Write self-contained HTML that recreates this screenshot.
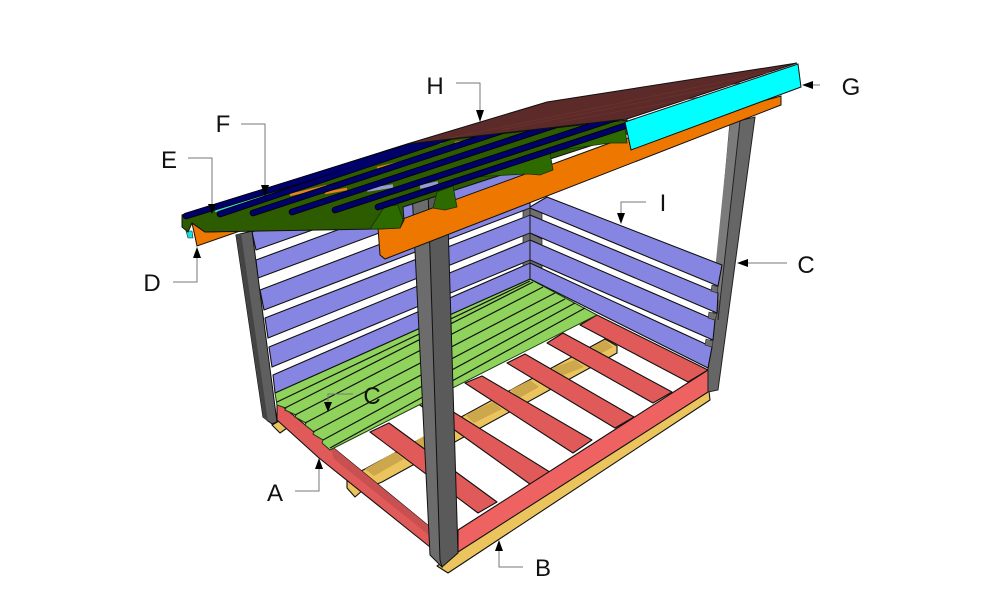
<!DOCTYPE html>
<html><head><meta charset="utf-8"><style>
html,body{margin:0;padding:0;background:#fff}
svg{display:block}
text{font-family:"Liberation Sans",sans-serif;font-size:24px;fill:#111;text-anchor:middle}
.k{stroke:#111;stroke-width:1.1;stroke-linejoin:round}
.l{fill:none;stroke:#777;stroke-width:1}
.p{fill:#8686e2}
.r{fill:#e05a5a}
.y{fill:#ecc45e}
.ys{fill:#cca74c}
</style></head><body>
<svg width="1005" height="604" viewBox="0 0 1005 604" xmlns="http://www.w3.org/2000/svg">
<defs><clipPath id="rc"><polygon points="170,235 181,213 407,144 627,119 645,133 385,215 370,235"/></clipPath></defs>
<rect width="1005" height="604" fill="#fff"/>

<!-- skids -->
<polygon class="y k" points="272,425 280,433 287,428 279,421"/>
<polygon class="y k" points="437,566 448,573 710,400 709,391 690,395"/>
<polygon class="y k" points="347,478 347,488 355,497 363,490 382,482 617,353 617,346 605,339 365,469"/>
<g class="ys">
<polygon points="365,469 395,452 404,459 374,476"/>
<polygon points="415,441 430,433 439,440 424,448"/>
<polygon points="465,415 493,402 502,409 474,423"/>
<polygon points="510,390 530,380 539,387 519,398"/>
<polygon points="552,368 575,360 584,367 561,376"/>
<polygon points="592,347 605,340 613,347 600,354"/>
</g>

<!-- joists -->
<polygon class="r k" points="597,315 708,370 688,382 580,325"/>
<polygon class="r k" points="547,343 563,333 672,392 653,403"/>
<polygon class="r k" points="507,363 525,354 634,417 615,428"/>
<polygon class="r k" points="465,383 482,376 592,440 573,453"/>
<polygon class="r k" points="410,385 553,474 534,487 410,398"/>
<polygon class="r k" points="370,432 389,423 497,502 478,513"/>
<polygon class="r k" points="277,402 330,445 430,527 430,547 319,458 277,420"/>
<polygon fill="#c95050" points="330,445 430,527 430,536 334,459"/>
<polygon fill="#ee6262" class="k" points="458,530 708,370 708,392 458,552"/>

<!-- floor -->
<polygon fill="#8fd35c" stroke="#1d3a10" stroke-width="1" points="275,393 530,279 597,315 330,450 322,443 323,440 313,434 314,432 305,425 306,423 295,417 296,415 285,410 286,408 277,405"/>
<g stroke="#111" stroke-width="1.2" fill="none">
<line x1="277" y1="402" x2="530" y2="281"/>
<line x1="285" y1="408" x2="533" y2="282"/>
<line x1="295" y1="415" x2="543" y2="287"/>
<line x1="305" y1="423" x2="555" y2="293"/>
<line x1="313" y1="432" x2="565" y2="299"/>
<line x1="323" y1="440" x2="575" y2="303"/>
<line x1="330" y1="448" x2="585" y2="308"/>
</g>

<!-- left wall boards -->
<g class="k">
<polygon class="p" points="273,375 530,263 530,279 275,393"/>
<polygon class="p" points="269,347 530,240 530,260 272,367"/>
<polygon class="p" points="265,318 530,215 530,233 268,338"/>
<polygon class="p" points="260,290 530,187 530,208 264,310"/>
<polygon class="p" points="256,260 530,159 530,177 258,278"/>
<polygon class="p" points="252,232 530,135 530,153 256,250"/>
</g>

<!-- corner post bits -->
<g fill="#6f6f6f" stroke="#222" stroke-width=".7">
<polygon points="523,211 530,208 530,215 523,218"/><polygon points="530,208 542,213 542,222 530,215"/>
<polygon points="523,236 530,233 530,240 523,243"/><polygon points="530,233 542,239 542,248 530,240"/>
<polygon points="523,263 530,260 530,263 523,266"/><polygon points="530,258 542,264 542,272 530,263"/>
</g>

<!-- right post -->
<polygon fill="#666" stroke="#222" points="730,123 755,117 718,390 708,392 708,368"/>
<polygon fill="#7b7b7b" points="730,123 740,121 721,300 712,300"/>
<line x1="740" y1="121" x2="718" y2="320" stroke="#222" stroke-width="1"/>

<!-- right wall boards -->
<g class="k">
<polygon class="p" points="530,207 547,197 722,265 718,286 530,208"/>
<polygon class="p" points="530,215 718,293 717,313 530,233"/>
<polygon class="p" points="530,240 715,320 713,340 530,260"/>
<polygon class="p" points="530,263 712,347 708,368 530,279"/>
</g>
<line x1="530" y1="207" x2="530" y2="279" stroke="#222" stroke-width="1"/>
<g fill="#6f6f6f" stroke="#222" stroke-width=".6">
<polygon points="712,285 718,287 717,293 711,291"/>
<polygon points="709,312 717,314 715,320 708,318"/>
<polygon points="706,339 713,341 712,347 705,345"/>
</g>

<!-- left post -->
<polygon fill="#5f5f5f" stroke="#111" points="236,235 252,231 277,422 272,424 263,417"/>
<polygon fill="#444" points="236,235 241,233 268,422 263,417"/>

<!-- front post -->
<polygon fill="#6c6c6c" stroke="#111" points="412,190 430,190 442,567 430,555"/>
<polygon fill="#5a5a5a" stroke="#111" points="428,190 447,190 458,553 442,567 440,560"/>

<!-- back orange -->
<polygon fill="#ee7700" stroke="#111" points="192,223 197,246 240,231 205,232"/>

<!-- small cyan left -->
<polygon fill="#19e0e0" stroke="#222" stroke-width=".6" points="186,231 192,231 193,238 188,238"/>

<!-- orange front -->
<polygon fill="#ee7700" stroke="#111" points="378,228 610,143 781,96 781,105 385,259 380,255"/>

<!-- roof underside -->
<polygon fill="#2d5b00" stroke="#111" points="182,215 407,144 627,120 630,133 403,207 404,220 400,228 378,229 205,232 192,223 188,232 182,227"/>

<!-- streaks -->
<g fill="none" stroke-width="2.5">
<path stroke="#43d3d8" d="M215,211 L317,181 M342,171 L390,157 M418,147 L442,142"/>
<path stroke="#e98022" d="M290,195 L327,186 M325,193 L347,189 M377,168 L403,162 M455,143 L472,140"/>
<path stroke="#9a9ad8" stroke-width="3.5" d="M367,190 L393,186 M420,187 L438,183"/>
</g>

<!-- rafter blobs -->
<g fill="#2d6a00" stroke="#16320a" stroke-width=".8">
<polygon points="437,192 453,186 457,207 445,210 433,208"/>
<polygon points="470,177 528,174 540,175 553,170 550,153 530,156"/>
<polygon points="560,150 610,143 627,143 625,128 590,135"/>
<polygon points="385,206 398,205 403,220 400,228 378,229 370,229"/>
</g>

<!-- purlins -->
<g clip-path="url(#rc)" fill="none" stroke-linecap="round">
<g stroke="#000" stroke-width="6.6">
<line x1="186" y1="216" x2="470" y2="128"/>
<line x1="220" y1="214" x2="470" y2="130"/>
<line x1="253" y1="213" x2="520" y2="125"/>
<line x1="292" y1="212" x2="580" y2="117"/>
<line x1="335" y1="210" x2="640" y2="110"/>
<line x1="378" y1="207" x2="640" y2="121"/>
</g>
<g stroke="#00006a" stroke-width="5">
<line x1="186" y1="216" x2="470" y2="128"/>
<line x1="220" y1="214" x2="470" y2="130"/>
<line x1="253" y1="213" x2="520" y2="125"/>
<line x1="292" y1="212" x2="580" y2="117"/>
<line x1="335" y1="210" x2="640" y2="110"/>
<line x1="378" y1="207" x2="640" y2="121"/>
</g>
</g>

<!-- brown roof -->
<polygon fill="#5c2a28" stroke="#111" points="407,144 547,102 797,63 627,119"/>
<g stroke="#6a352f" stroke-width=".7">
<line x1="450" y1="138" x2="770" y2="72"/><line x1="500" y1="130" x2="740" y2="83"/><line x1="560" y1="122" x2="700" y2="97"/>
</g>

<!-- cyan fascia -->
<polygon fill="#00ffff" stroke="#111" points="625,122 798,64 801,87 631,150"/>

<!-- leaders -->
<g class="l">
<polyline points="456,83 480,83 480,112"/>
<polyline points="241,124 265,124 265,187"/>
<polyline points="188,158 212,158 212,206"/>
<polyline points="173,282 197,282 197,256"/>
<polyline points="295,491 319,491 319,468"/>
<polyline points="353,394 328,394 328,404"/>
<polyline points="523,567 499,567 499,549"/>
<polyline points="820,85 812,85"/>
<polyline points="646,202 621,202 621,215"/>
<polyline points="787,263 747,263"/>
</g>
<g fill="#000">
<polygon points="480,122 476,110 484,110"/>
<polygon points="265,197 261,185 269,185"/>
<polygon points="212,214 208,204 216,204"/>
<polygon points="197,247 193,258 201,258"/>
<polygon points="319,458 315,469 323,469"/>
<polygon points="328,412 324,402 332,402"/>
<polygon points="499,540 495,551 503,551"/>
<polygon points="802,85 813,81 813,89"/>
<polygon points="621,224 617,213 625,213"/>
<polygon points="737,263 748,259 748,267"/>
</g>

<!-- labels -->
<text x="435" y="94">H</text>
<text x="223" y="132">F</text>
<text x="169" y="168">E</text>
<text x="152" y="291">D</text>
<text x="275" y="501">A</text>
<text x="372" y="404">C</text>
<text x="543" y="576">B</text>
<text x="851" y="95">G</text>
<text x="663" y="211">I</text>
<text x="806" y="273">C</text>
</svg>
</body></html>
